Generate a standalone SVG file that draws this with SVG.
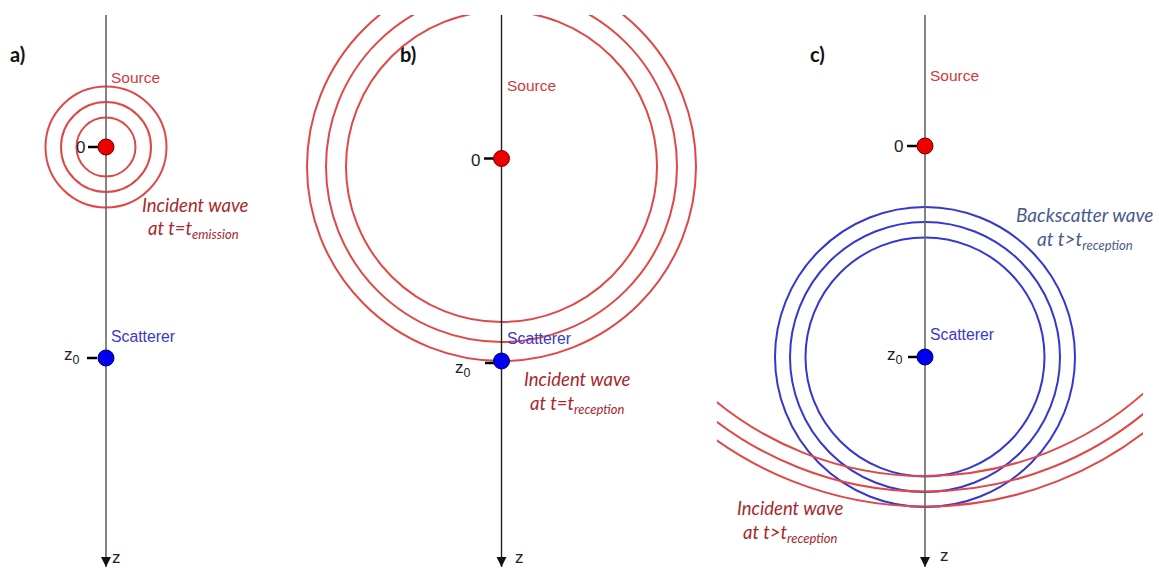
<svg xmlns="http://www.w3.org/2000/svg" width="1159" height="568" viewBox="0 0 1159 568">
<style>
.axis{stroke:#666;stroke-width:1.6;fill:none}
.axisb{stroke:#222;stroke-width:1.4;fill:none}
.red{stroke:#e04848;stroke-width:2;fill:none}
.blue{stroke:#3636d0;stroke-width:2;fill:none}
.tick{stroke:#000;stroke-width:2.5}
.srcdot{fill:#ee0000;stroke:#700;stroke-width:1}
.scdot{fill:#0000ee;stroke:#000070;stroke-width:1}
.src{font-family:"Liberation Sans",Arial,sans-serif;font-size:15.5px;fill:#d03a3a}
.sc{font-family:"Liberation Sans",Arial,sans-serif;font-size:15.8px;fill:#3a3ac8}
.num{font-family:"Liberation Sans",Arial,sans-serif;font-size:17px;fill:#222}
.sub{font-size:12.5px}
.lab{font-family:"Lato","Liberation Sans",sans-serif;font-size:20px;font-weight:bold;fill:#111}
.inc{font-family:"Lato","Liberation Sans",sans-serif;font-style:italic;font-size:18.5px;fill:#a8282c}
.bs{font-family:"Lato","Liberation Sans",sans-serif;font-style:italic;font-size:19px;fill:#4a5a8e}
.it{font-size:13px}
</style>
<defs>
<marker id="arr" viewBox="0 0 10 10" refX="10" refY="5" markerWidth="10" markerHeight="14" markerUnits="userSpaceOnUse" orient="auto"><path d="M0,0 L10,5 L0,10 z" fill="#111"/></marker>
<clipPath id="clipB"><rect x="0" y="15" width="700" height="553"/></clipPath>
<clipPath id="clipC"><rect x="717" y="15" width="426" height="553"/></clipPath>
</defs>

<g id="panel-a">
<text class="lab" x="10" y="62">a)</text>
<circle class="red" cx="106" cy="147" r="29.5"/>
<circle class="red" cx="106" cy="147" r="45"/>
<circle class="red" cx="106" cy="147" r="60.5"/>
<text class="src" x="111" y="83">Source</text>
<text class="sc" x="111" y="342">Scatterer</text>
<text class="inc" x="142" y="212">Incident wave</text>
<text class="inc" x="148" y="235">at t=t<tspan class="it" dy="4">emission</tspan></text>
</g>

<g id="panel-b">
<text class="lab" x="400" y="62">b)</text>
<g clip-path="url(#clipB)">
<circle class="red" cx="501.5" cy="166.5" r="155.5"/>
<circle class="red" cx="501.5" cy="166.5" r="175.5"/>
<circle class="red" cx="501.5" cy="166.5" r="194.5"/>
</g>
<text class="src" x="507" y="91">Source</text>
<text class="sc" x="507" y="344">Scatterer</text>
<text class="inc" x="524" y="386">Incident wave</text>
<text class="inc" x="530" y="410">at t=t<tspan class="it" dy="4">reception</tspan></text>
</g>

<g id="panel-c">
<text class="lab" x="810" y="62">c)</text>
<circle class="blue" cx="925" cy="357" r="119.5"/>
<circle class="blue" cx="925" cy="357" r="135"/>
<circle class="blue" cx="925" cy="357" r="150"/>
<g clip-path="url(#clipC)">
<circle class="red" cx="925" cy="146" r="330"/>
<circle class="red" cx="925" cy="146" r="345.5"/>
<circle class="red" cx="925" cy="146" r="360.5"/>
</g>
<text class="src" x="930" y="81">Source</text>
<text class="sc" x="930" y="340">Scatterer</text>
<text class="bs" x="1016" y="222">Backscatter wave</text>
<text class="bs" x="1037" y="246">at t&gt;t<tspan class="it" dy="4">reception</tspan></text>
<text class="inc" x="737" y="515">Incident wave</text>
<text class="inc" x="743" y="539">at t&gt;t<tspan class="it" dy="4">reception</tspan></text>
</g>

<g id="connectors">
<line class="axis" x1="106" y1="15" x2="106" y2="567" marker-end="url(#arr)"/>
<line class="axisb" x1="501.5" y1="15" x2="501.5" y2="567" marker-end="url(#arr)"/>
<line class="axis" x1="925" y1="15" x2="925" y2="567" marker-end="url(#arr)"/>
</g>

<g id="axis-a">
<line class="tick" x1="88" y1="147" x2="98" y2="147"/>
<text class="num" x="76" y="153">0</text>
<line class="tick" x1="87" y1="358" x2="97" y2="358"/>
<text class="num" x="64" y="360" font-size="18">z<tspan class="sub" dy="4">0</tspan></text>
<text class="num" x="112" y="563">z</text>
<circle class="srcdot" cx="106" cy="147" r="8"/>
<circle class="scdot" cx="106" cy="358" r="8"/>
</g>
<g id="axis-b">
<line class="tick" x1="484" y1="158.5" x2="494" y2="158.5"/>
<text class="num" x="471" y="166">0</text>
<line class="tick" x1="485" y1="363" x2="495" y2="363"/>
<text class="num" x="455" y="373" font-size="18">z<tspan class="sub" dy="4">0</tspan></text>
<text class="num" x="515" y="563">z</text>
<circle class="srcdot" cx="501.5" cy="158.5" r="8"/>
<circle class="scdot" cx="501.5" cy="361" r="8"/>
</g>
<g id="axis-c">
<line class="tick" x1="907" y1="146" x2="917" y2="146"/>
<text class="num" x="894" y="152">0</text>
<line class="tick" x1="908" y1="357" x2="918" y2="357"/>
<text class="num" x="887" y="360" font-size="18">z<tspan class="sub" dy="4">0</tspan></text>
<text class="num" x="940" y="561">z</text>
<circle class="srcdot" cx="925" cy="146" r="8"/>
<circle class="scdot" cx="925" cy="357" r="8"/>
</g>
</svg>
